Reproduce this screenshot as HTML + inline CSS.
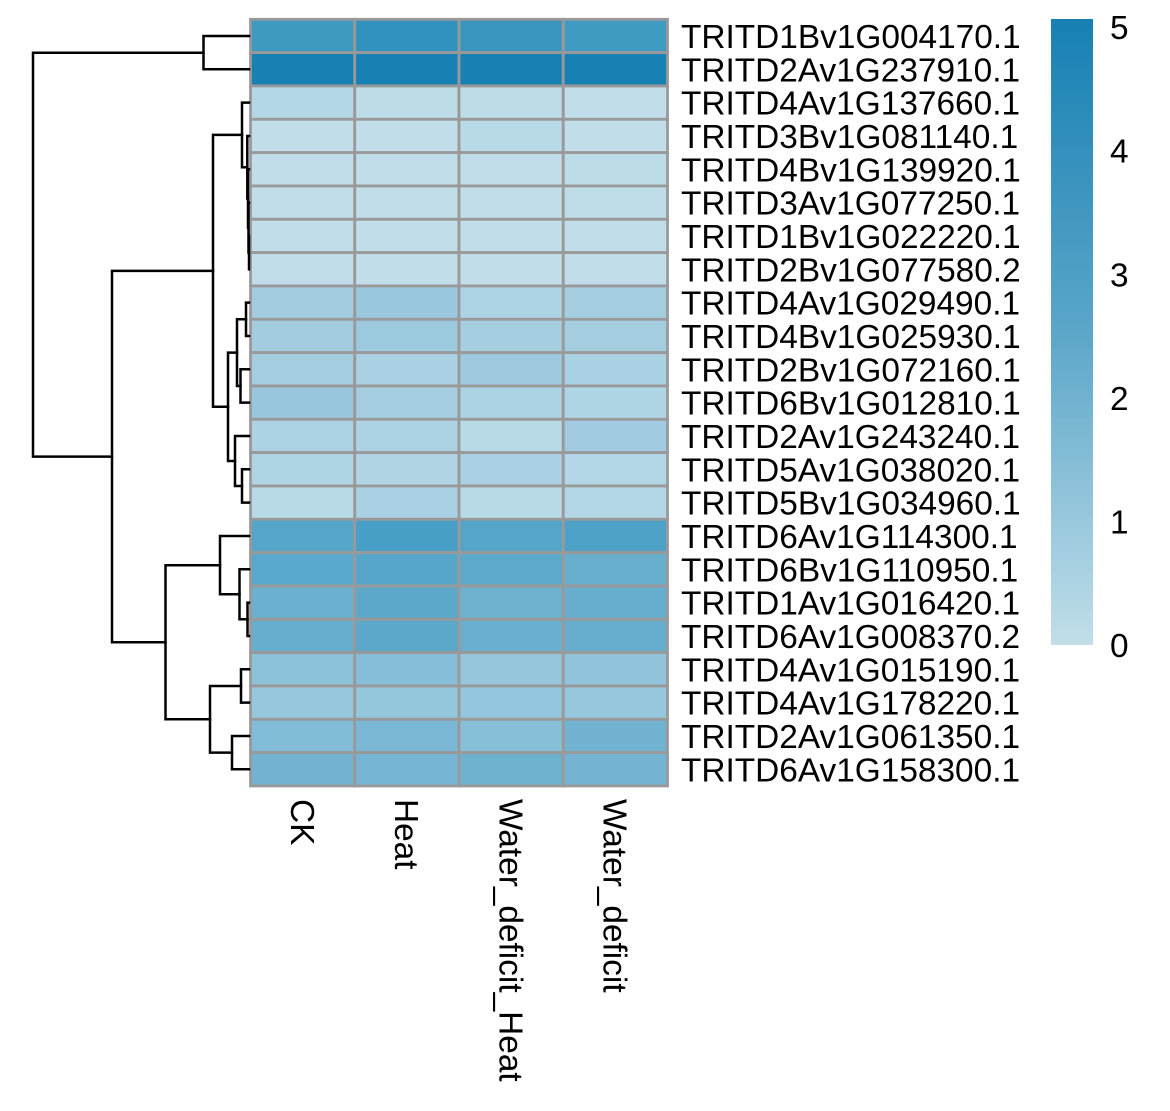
<!DOCTYPE html>
<html><head><meta charset="utf-8"><style>
html,body{margin:0;padding:0;background:#fff;}
svg{display:block;}
text{font-family:"Liberation Sans",Arial,sans-serif;font-size:33.4px;fill:#000;}
</style></head><body>
<svg width="1170" height="1111" viewBox="0 0 1170 1111" xmlns="http://www.w3.org/2000/svg">
<defs>
<linearGradient id="lg" x1="0" y1="0" x2="0" y2="1">
<stop offset="0" stop-color="#1780b3"/>
<stop offset="0.5" stop-color="#5ba6c9"/>
<stop offset="1" stop-color="#c1dee9"/>
</linearGradient>
</defs>
<!-- heatmap cells -->
<g stroke="#999999" stroke-width="2.8">
<!-- row 1 -->
<rect x="250.5" y="19.3" width="104.25" height="33.33" fill="#3d9ac1"/>
<rect x="354.75" y="19.3" width="104.25" height="33.33" fill="#3192bd"/>
<rect x="459" y="19.3" width="104.25" height="33.33" fill="#3a96bf"/>
<rect x="563.25" y="19.3" width="104.25" height="33.33" fill="#3f9bc2"/>
<!-- row 2 -->
<rect x="250.5" y="52.63" width="104.25" height="33.33" fill="#1781b3"/>
<rect x="354.75" y="52.63" width="104.25" height="33.33" fill="#1781b3"/>
<rect x="459" y="52.63" width="104.25" height="33.33" fill="#1781b3"/>
<rect x="563.25" y="52.63" width="104.25" height="33.33" fill="#1781b3"/>
<!-- row 3 -->
<rect x="250.5" y="85.97" width="104.25" height="33.33" fill="#b3d7e6"/>
<rect x="354.75" y="85.97" width="104.25" height="33.33" fill="#bcdce8"/>
<rect x="459" y="85.97" width="104.25" height="33.33" fill="#bddce8"/>
<rect x="563.25" y="85.97" width="104.25" height="33.33" fill="#c0dde9"/>
<!-- row 4 -->
<rect x="250.5" y="119.3" width="104.25" height="33.33" fill="#c0dde9"/>
<rect x="354.75" y="119.3" width="104.25" height="33.33" fill="#c0dde9"/>
<rect x="459" y="119.3" width="104.25" height="33.33" fill="#b8dae7"/>
<rect x="563.25" y="119.3" width="104.25" height="33.33" fill="#c0dde9"/>
<!-- row 5 -->
<rect x="250.5" y="152.63" width="104.25" height="33.33" fill="#c0dde9"/>
<rect x="354.75" y="152.63" width="104.25" height="33.33" fill="#c0dde9"/>
<rect x="459" y="152.63" width="104.25" height="33.33" fill="#c0dde9"/>
<rect x="563.25" y="152.63" width="104.25" height="33.33" fill="#bcdce8"/>
<!-- row 6 -->
<rect x="250.5" y="185.97" width="104.25" height="33.33" fill="#c0dde9"/>
<rect x="354.75" y="185.97" width="104.25" height="33.33" fill="#c0dde9"/>
<rect x="459" y="185.97" width="104.25" height="33.33" fill="#c0dde9"/>
<rect x="563.25" y="185.97" width="104.25" height="33.33" fill="#bfdde9"/>
<!-- row 7 -->
<rect x="250.5" y="219.3" width="104.25" height="33.33" fill="#c0dde9"/>
<rect x="354.75" y="219.3" width="104.25" height="33.33" fill="#c0dde9"/>
<rect x="459" y="219.3" width="104.25" height="33.33" fill="#c0dde9"/>
<rect x="563.25" y="219.3" width="104.25" height="33.33" fill="#c0dde9"/>
<!-- row 8 -->
<rect x="250.5" y="252.63" width="104.25" height="33.33" fill="#c0dde9"/>
<rect x="354.75" y="252.63" width="104.25" height="33.33" fill="#c0dde9"/>
<rect x="459" y="252.63" width="104.25" height="33.33" fill="#c0dde9"/>
<rect x="563.25" y="252.63" width="104.25" height="33.33" fill="#c0dde9"/>
<!-- row 9 -->
<rect x="250.5" y="285.97" width="104.25" height="33.33" fill="#a3cce0"/>
<rect x="354.75" y="285.97" width="104.25" height="33.33" fill="#98c7de"/>
<rect x="459" y="285.97" width="104.25" height="33.33" fill="#add3e4"/>
<rect x="563.25" y="285.97" width="104.25" height="33.33" fill="#a4cde0"/>
<!-- row 10 -->
<rect x="250.5" y="319.3" width="104.25" height="33.33" fill="#a3cce0"/>
<rect x="354.75" y="319.3" width="104.25" height="33.33" fill="#9bc9de"/>
<rect x="459" y="319.3" width="104.25" height="33.33" fill="#a6cee1"/>
<rect x="563.25" y="319.3" width="104.25" height="33.33" fill="#a4cde0"/>
<!-- row 11 -->
<rect x="250.5" y="352.63" width="104.25" height="33.33" fill="#a4cde0"/>
<rect x="354.75" y="352.63" width="104.25" height="33.33" fill="#aad1e3"/>
<rect x="459" y="352.63" width="104.25" height="33.33" fill="#9dcadf"/>
<rect x="563.25" y="352.63" width="104.25" height="33.33" fill="#aad1e3"/>
<!-- row 12 -->
<rect x="250.5" y="385.97" width="104.25" height="33.33" fill="#98c7dd"/>
<rect x="354.75" y="385.97" width="104.25" height="33.33" fill="#a4cde0"/>
<rect x="459" y="385.97" width="104.25" height="33.33" fill="#abd2e3"/>
<rect x="563.25" y="385.97" width="104.25" height="33.33" fill="#afd4e4"/>
<!-- row 13 -->
<rect x="250.5" y="419.3" width="104.25" height="33.33" fill="#acd2e3"/>
<rect x="354.75" y="419.3" width="104.25" height="33.33" fill="#acd2e3"/>
<rect x="459" y="419.3" width="104.25" height="33.33" fill="#b8dae7"/>
<rect x="563.25" y="419.3" width="104.25" height="33.33" fill="#a0cbe0"/>
<!-- row 14 -->
<rect x="250.5" y="452.63" width="104.25" height="33.33" fill="#afd4e4"/>
<rect x="354.75" y="452.63" width="104.25" height="33.33" fill="#b0d4e4"/>
<rect x="459" y="452.63" width="104.25" height="33.33" fill="#aad1e3"/>
<rect x="563.25" y="452.63" width="104.25" height="33.33" fill="#b2d6e5"/>
<!-- row 15 -->
<rect x="250.5" y="485.97" width="104.25" height="33.33" fill="#b8dae7"/>
<rect x="354.75" y="485.97" width="104.25" height="33.33" fill="#aad1e3"/>
<rect x="459" y="485.97" width="104.25" height="33.33" fill="#b8dae7"/>
<rect x="563.25" y="485.97" width="104.25" height="33.33" fill="#b2d6e5"/>
<!-- row 16 -->
<rect x="250.5" y="519.3" width="104.25" height="33.33" fill="#55a5c9"/>
<rect x="354.75" y="519.3" width="104.25" height="33.33" fill="#479ec6"/>
<rect x="459" y="519.3" width="104.25" height="33.33" fill="#54a5c9"/>
<rect x="563.25" y="519.3" width="104.25" height="33.33" fill="#4da1c7"/>
<!-- row 17 -->
<rect x="250.5" y="552.63" width="104.25" height="33.33" fill="#5aa8cb"/>
<rect x="354.75" y="552.63" width="104.25" height="33.33" fill="#57a6ca"/>
<rect x="459" y="552.63" width="104.25" height="33.33" fill="#5da9cb"/>
<rect x="563.25" y="552.63" width="104.25" height="33.33" fill="#68aecd"/>
<!-- row 18 -->
<rect x="250.5" y="585.97" width="104.25" height="33.33" fill="#6cb0cf"/>
<rect x="354.75" y="585.97" width="104.25" height="33.33" fill="#5ca8cb"/>
<rect x="459" y="585.97" width="104.25" height="33.33" fill="#6eb1cf"/>
<rect x="563.25" y="585.97" width="104.25" height="33.33" fill="#67aece"/>
<!-- row 19 -->
<rect x="250.5" y="619.3" width="104.25" height="33.33" fill="#67aece"/>
<rect x="354.75" y="619.3" width="104.25" height="33.33" fill="#5ba8ca"/>
<rect x="459" y="619.3" width="104.25" height="33.33" fill="#6aafce"/>
<rect x="563.25" y="619.3" width="104.25" height="33.33" fill="#66adcd"/>
<!-- row 20 -->
<rect x="250.5" y="652.63" width="104.25" height="33.33" fill="#8cc1da"/>
<rect x="354.75" y="652.63" width="104.25" height="33.33" fill="#86bed9"/>
<rect x="459" y="652.63" width="104.25" height="33.33" fill="#95c6dc"/>
<rect x="563.25" y="652.63" width="104.25" height="33.33" fill="#91c4db"/>
<!-- row 21 -->
<rect x="250.5" y="685.97" width="104.25" height="33.33" fill="#97c7dd"/>
<rect x="354.75" y="685.97" width="104.25" height="33.33" fill="#94c6dc"/>
<rect x="459" y="685.97" width="104.25" height="33.33" fill="#93c5dc"/>
<rect x="563.25" y="685.97" width="104.25" height="33.33" fill="#96c7dd"/>
<!-- row 22 -->
<rect x="250.5" y="719.3" width="104.25" height="33.33" fill="#82bcd8"/>
<rect x="354.75" y="719.3" width="104.25" height="33.33" fill="#7ab8d5"/>
<rect x="459" y="719.3" width="104.25" height="33.33" fill="#87bfd9"/>
<rect x="563.25" y="719.3" width="104.25" height="33.33" fill="#70b2d0"/>
<!-- row 23 -->
<rect x="250.5" y="752.63" width="104.25" height="33.33" fill="#72b3d1"/>
<rect x="354.75" y="752.63" width="104.25" height="33.33" fill="#76b5d3"/>
<rect x="459" y="752.63" width="104.25" height="33.33" fill="#6eb1cf"/>
<rect x="563.25" y="752.63" width="104.25" height="33.33" fill="#74b4d2"/>
</g>

<!-- dendrogram -->
<g fill="none" stroke="#000" stroke-width="2.5" stroke-linecap="square">
<path d="M249 36 H203.5 V69.3 H249"/>
<path d="M249 236 H249 V269.3 H249"/>
<path d="M249 202.6 H248.5 V252.6 H249"/>
<path d="M249 169.3 H248 V227.6 H248.5"/>
<path d="M249 136 H247.3 V198.5 H248"/>
<path d="M249 102.6 H242 V167.2 H247.3"/>
<path d="M249 302.6 H246 V336 H249"/>
<path d="M249 369.3 H240.5 V402.6 H249"/>
<path d="M246 319.3 H237 V386 H240.5"/>
<path d="M249 469.3 H242 V502.6 H249"/>
<path d="M249 436 H235 V486 H242"/>
<path d="M237 352.6 H228 V461 H235"/>
<path d="M242 134.9 H213 V406.8 H228"/>
<path d="M249 602.6 H247.5 V636 H249"/>
<path d="M249 569.3 H239.5 V619.3 H247.5"/>
<path d="M249 536 H220 V594.3 H239.5"/>
<path d="M249 669.3 H241 V702.6 H249"/>
<path d="M249 736 H232 V769.3 H249"/>
<path d="M241 686 H210 V752.6 H232"/>
<path d="M220 565.2 H165.5 V719.3 H210"/>
<path d="M213 270.9 H112 V642.2 H165.5"/>
<path d="M203.5 52.7 H33 V456.6 H112"/>
</g>

<!-- row labels -->
<g>
<text x="681" y="48">TRITD1Bv1G004170.1</text>
<text x="681" y="81.3">TRITD2Av1G237910.1</text>
<text x="681" y="114.6">TRITD4Av1G137660.1</text>
<text x="681" y="148">TRITD3Bv1G081140.1</text>
<text x="681" y="181.3">TRITD4Bv1G139920.1</text>
<text x="681" y="214.6">TRITD3Av1G077250.1</text>
<text x="681" y="248">TRITD1Bv1G022220.1</text>
<text x="681" y="281.3">TRITD2Bv1G077580.2</text>
<text x="681" y="314.6">TRITD4Av1G029490.1</text>
<text x="681" y="348">TRITD4Bv1G025930.1</text>
<text x="681" y="381.3">TRITD2Bv1G072160.1</text>
<text x="681" y="414.6">TRITD6Bv1G012810.1</text>
<text x="681" y="448">TRITD2Av1G243240.1</text>
<text x="681" y="481.3">TRITD5Av1G038020.1</text>
<text x="681" y="514.6">TRITD5Bv1G034960.1</text>
<text x="681" y="548">TRITD6Av1G114300.1</text>
<text x="681" y="581.3">TRITD6Bv1G110950.1</text>
<text x="681" y="614.6">TRITD1Av1G016420.1</text>
<text x="681" y="648">TRITD6Av1G008370.2</text>
<text x="681" y="681.3">TRITD4Av1G015190.1</text>
<text x="681" y="714.6">TRITD4Av1G178220.1</text>
<text x="681" y="748">TRITD2Av1G061350.1</text>
<text x="681" y="781.3">TRITD6Av1G158300.1</text>
</g>

<!-- column labels -->
<text x="291" y="799" transform="rotate(90 291 799)">CK</text>
<text x="395" y="799" transform="rotate(90 395 799)">Heat</text>
<text x="499.5" y="799" transform="rotate(90 499.5 799)">Water_deficit_Heat</text>
<text x="603.5" y="799" transform="rotate(90 603.5 799)">Water_deficit</text>

<!-- color legend -->
<rect x="1051" y="19" width="42" height="626" fill="url(#lg)"/>
<text x="1110" y="39">5</text>
<text x="1110" y="162.6">4</text>
<text x="1110" y="286.3">3</text>
<text x="1110" y="410">2</text>
<text x="1110" y="533.6">1</text>
<text x="1110" y="657">0</text>
</svg>
</body></html>
